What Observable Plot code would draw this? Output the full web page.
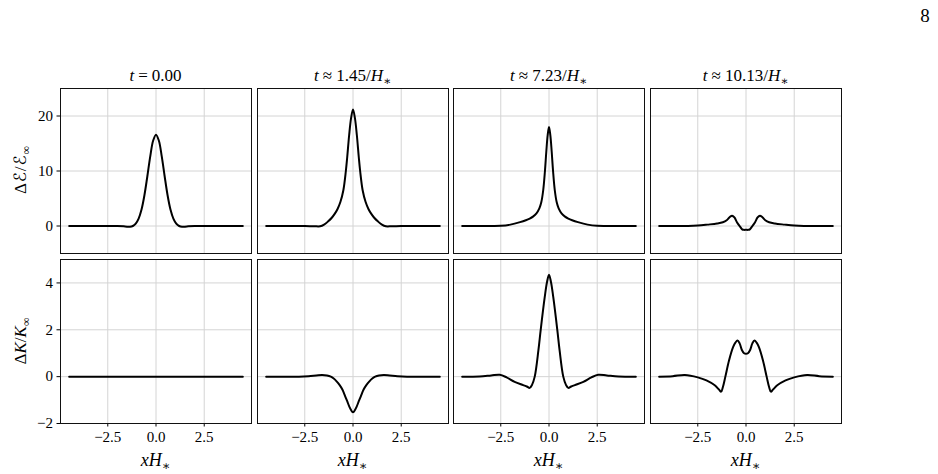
<!DOCTYPE html>
<html><head><meta charset="utf-8">
<script src="https://cdn.jsdelivr.net/npm/d3@7"></script>
<script src="https://cdn.jsdelivr.net/npm/@observablehq/plot@0.6"></script>
<style>
body{margin:0;background:#fff;}
#chart{position:relative;width:938px;height:474px;overflow:hidden;font-family:"Liberation Serif","DejaVu Serif",serif;color:#000;background:#fff;}
.lbl{position:absolute;white-space:nowrap;line-height:1;transform:translate(-50%,-50%);}
.lbl sub{font-size:70%;vertical-align:baseline;position:relative;top:0.35em;}
.lbl .op{padding:0 0.24em;}
.lbl .scr{font-family:"DejaVu Serif","DejaVu Sans",serif;font-style:normal;padding:0 0.05em;}
.rot{transform:translate(-50%,-50%) rotate(-90deg);}
</style></head><body><div id="chart"></div>
<script>
// ---- text ----
const panelTitles = ["<i>t</i><span class='op'>=</span>0.00", "<i>t</i><span class='op'>≈</span>1.45/<i>H</i><sub>∗</sub>", "<i>t</i><span class='op'>≈</span>7.23/<i>H</i><sub>∗</sub>", "<i>t</i><span class='op'>≈</span>10.13/<i>H</i><sub>∗</sub>"];
const rowLabels = ["Δ<span class='scr'>ℰ</span>/<span class='scr'>ℰ</span><sub>∞</sub>", "Δ<i>K</i>/<i>K</i><sub>∞</sub>"];
const xLabel = "<i>xH</i><sub>∗</sub>";
const pageNumber = "8";

// ---- ticks & domains ----
const xTicks = [-2.5, 0, 2.5];
const energyTicks = [0, 10, 20];
const kineticTicks = [-2, 0, 2, 4];
const xDomain = [-4.95, 4.95];
const energyDomain = [-5, 25];
const kineticDomain = [-2, 5];

// ---- data: energy density contrast (top row) ----
const xE0 = [-4.5, -3, -2, -1.6, -1.35, -1.2, -1.05, -0.9, -0.75, -0.6, -0.45, -0.3, -0.15, 0, 0.15, 0.3, 0.45, 0.6, 0.75, 0.9, 1.05, 1.2, 1.35, 1.6, 2, 3, 4.5];
const yE0 = [0, 0, 0, -0.08, -0.15, 0.0, 0.45, 1.35, 3.0, 5.6, 9.0, 12.6, 15.5, 16.6, 15.5, 12.6, 9.0, 5.6, 3.0, 1.35, 0.45, 0.0, -0.15, -0.08, 0, 0, 0];

const xE1 = [-4.5, -3, -2.5, -2, -1.7, -1.5, -1.3, -1.1, -0.95, -0.8, -0.65, -0.5, -0.37, -0.3, -0.2, -0.1, 0, 0.1, 0.2, 0.3, 0.37, 0.5, 0.65, 0.8, 0.95, 1.1, 1.3, 1.5, 1.7, 2, 2.5, 3, 4.5];
const yE1 = [0, 0, 0, -0.05, -0.05, 0.25, 0.8, 1.5, 2.2, 3.1, 4.4, 6.5, 10, 12.5, 16.5, 19.6, 21.2, 19.6, 16.5, 12.5, 10, 6.5, 4.4, 3.1, 2.2, 1.5, 0.8, 0.25, -0.05, -0.05, 0, 0, 0];

const xE2 = [-4.5, -3, -2.5, -2, -1.5, -1.2, -1.0, -0.83, -0.65, -0.5, -0.4, -0.3, -0.21, -0.14, -0.07, 0, 0.07, 0.14, 0.21, 0.3, 0.4, 0.5, 0.65, 0.83, 1.0, 1.2, 1.5, 2, 2.5, 3, 4.5];
const yE2 = [0, 0, 0.03, 0.25, 0.7, 1.05, 1.35, 1.7, 2.3, 3.2, 4.3, 6.5, 10, 13.5, 16.5, 18.0, 16.5, 13.5, 10, 6.5, 4.3, 3.2, 2.3, 1.7, 1.35, 1.05, 0.7, 0.25, 0.03, 0, 0];

const xE3 = [-4.5, -3, -2.5, -2, -1.5, -1.2, -1.0, -0.85, -0.72, -0.6, -0.47, -0.33, -0.2, -0.1, 0, 0.1, 0.2, 0.33, 0.47, 0.6, 0.72, 0.85, 1.0, 1.2, 1.5, 2, 2.5, 3, 4.5];
const yE3 = [0, 0, 0.08, 0.25, 0.45, 0.68, 1.05, 1.6, 1.88, 1.55, 0.7, 0, -0.6, -0.7, -0.7, -0.7, -0.6, 0, 0.7, 1.55, 1.88, 1.6, 1.05, 0.68, 0.45, 0.25, 0.08, 0, 0];

// ---- data: kinetic contrast (bottom row) ----
const xK0 = [-4.5, -2.5, 0, 2.5, 4.5];
const yK0 = [0, 0, 0, 0, 0];

const xK1 = [-4.5, -2.8, -2.3, -1.9, -1.6, -1.35, -1.15, -1.0, -0.85, -0.7, -0.55, -0.4, -0.3, -0.15, 0, 0.15, 0.3, 0.4, 0.55, 0.7, 0.85, 1.0, 1.15, 1.35, 1.6, 1.9, 2.3, 2.8, 4.5];
const yK1 = [0, 0, 0.02, 0.05, 0.07, 0.05, 0.0, -0.08, -0.2, -0.35, -0.55, -0.85, -1.05, -1.35, -1.52, -1.35, -1.05, -0.85, -0.55, -0.35, -0.2, -0.08, 0.0, 0.05, 0.07, 0.05, 0.02, 0, 0];

const xK2 = [-4.5, -3.6, -3.0, -2.55, -2.2, -1.78, -1.34, -1.15, -1.0, -0.88, -0.74, -0.55, -0.43, -0.22, -0.1, 0, 0.1, 0.22, 0.43, 0.55, 0.74, 0.88, 1.0, 1.15, 1.34, 1.78, 2.2, 2.55, 3.0, 3.6, 4.5];
const yK2 = [0, 0.01, 0.05, 0.08, -0.03, -0.22, -0.36, -0.42, -0.48, -0.35, 0.0, 1.12, 2.0, 3.4, 4.05, 4.35, 4.05, 3.4, 2.0, 1.12, 0.0, -0.35, -0.48, -0.42, -0.36, -0.22, -0.03, 0.08, 0.05, 0.01, 0];

const xK3 = [-4.5, -3.8, -3.17, -2.5, -2.05, -1.62, -1.4, -1.29, -1.2, -1.07, -0.88, -0.67, -0.55, -0.44, -0.33, -0.22, -0.1, 0, 0.1, 0.22, 0.33, 0.44, 0.55, 0.67, 0.88, 1.07, 1.2, 1.29, 1.4, 1.62, 2.05, 2.5, 3.17, 3.8, 4.5];
const yK3 = [0, 0.02, 0.07, -0.03, -0.16, -0.37, -0.55, -0.64, -0.45, 0.0, 0.69, 1.26, 1.45, 1.54, 1.42, 1.15, 1.0, 0.98, 1.0, 1.15, 1.42, 1.54, 1.45, 1.26, 0.69, 0.0, -0.45, -0.64, -0.55, -0.37, -0.16, -0.03, 0.07, 0.02, 0];

const energySeries = [[xE0, yE0], [xE1, yE1], [xE2, yE2], [xE3, yE3]];
const kineticSeries = [[xK0, yK0], [xK1, yK1], [xK2, yK2], [xK3, yK3]];

// ---- layout ----
const colLeft = [60, 257, 453, 650];
const panelW = 191;
const rowTop = [88, 259];
const rowH = [165, 164];

const fmtX = d => (d === 0 ? "0.0" : d.toFixed(1)).replace("-", "\u2212");
const fmtY = d => String(d).replace("-", "\u2212");

const chart = document.getElementById("chart");

function addPanel(series, row, col) {
  const [xs, ys] = series;
  const data = xs.map((x, i) => ({x, y: ys[i]}));
  const showY = col === 0;
  const showX = row === 1;
  const ml = showY ? 60 : 0;
  const mb = showX ? 40 : 0;
  const yTicks = row === 0 ? energyTicks : kineticTicks;
  const yDomain = row === 0 ? energyDomain : kineticDomain;
  const p = Plot.plot({
    width: ml + panelW,
    height: rowH[row] + mb,
    marginLeft: ml, marginRight: 0, marginTop: 0, marginBottom: mb,
    style: {background: "transparent", overflow: "visible", fontFamily: "'Liberation Serif','DejaVu Serif',serif", fontSize: "15px", color: "#000"},
    x: {domain: xDomain, axis: null, label: null},
    y: {domain: yDomain, axis: null, label: null},
    marks: [
      Plot.gridX(xTicks, {stroke: "#d4d4d4", strokeOpacity: 1, strokeWidth: 1}),
      Plot.gridY(yTicks, {stroke: "#d4d4d4", strokeOpacity: 1, strokeWidth: 1}),
      showX ? Plot.axisX(xTicks, {tickSize: 3.5, tickPadding: 4, tickFormat: fmtX, label: null, stroke: "#000"}) : null,
      showY ? Plot.axisY(yTicks, {tickSize: 3.5, tickPadding: 4, tickFormat: fmtY, label: null, stroke: "#000"}) : null,
      Plot.line(data, {x: "x", y: "y", curve: "catmull-rom", stroke: "#000", strokeWidth: 2, strokeLinejoin: "round"}),
      Plot.frame({stroke: "#111", strokeWidth: 1})
    ]
  });
  p.style.position = "absolute";
  p.style.left = (colLeft[col] - ml) + "px";
  p.style.top = rowTop[row] + "px";
  chart.appendChild(p);
}

energySeries.forEach((s, c) => addPanel(s, 0, c));
kineticSeries.forEach((s, c) => addPanel(s, 1, c));

function addLabel(html, x, y, size, cls) {
  const d = document.createElement("div");
  d.className = "lbl" + (cls ? " " + cls : "");
  d.innerHTML = html;
  d.style.left = x + "px";
  d.style.top = y + "px";
  d.style.fontSize = size + "px";
  chart.appendChild(d);
}

panelTitles.forEach((t, c) => addLabel(t, colLeft[c] + panelW / 2, 75, 17));
colLeft.forEach(l => addLabel(xLabel, l + panelW / 2, 460, 18));
addLabel(rowLabels[0], 20, 170, 17, "rot");
addLabel(rowLabels[1], 20, 341, 17, "rot");
addLabel(pageNumber, 925, 15, 19);
</script>
</body></html>
